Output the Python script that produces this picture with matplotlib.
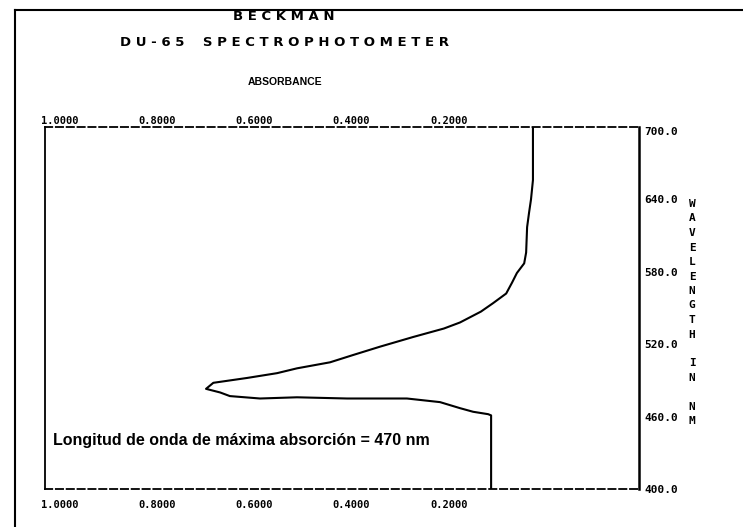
import matplotlib
matplotlib.use('Agg')
import matplotlib.pyplot as plt
from matplotlib.lines import Line2D

# trace, from 700 nm down to 400 nm
wavelength = [700, 681, 656, 640, 629, 617, 596, 587, 579, 571, 562, 554,
              547, 538, 533, 526, 518, 511, 505, 500, 496, 492, 488, 483,
              480, 477, 475, 476, 475, 475, 472, 467, 464, 462, 461, 400]
absorbance = [0.027, 0.027, 0.027, 0.031, 0.035, 0.039, 0.041, 0.045,
              0.060, 0.070, 0.082, 0.109, 0.134, 0.177, 0.210, 0.273,
              0.341, 0.397, 0.444, 0.512, 0.553, 0.615, 0.684, 0.699,
              0.670, 0.650, 0.588, 0.512, 0.409, 0.286, 0.218, 0.177,
              0.150, 0.119, 0.113, 0.113]

abs_ticks = [1.0, 0.8, 0.6, 0.4, 0.2]
abs_labels = ['1.0000', '0.8000', '0.6000', '0.4000', '0.2000']
wl_ticks = [400, 460, 520, 580, 640, 700]
wl_labels = ['400.0', '460.0', '520.0', '580.0', '640.0', '700.0']

mono = 'DejaVu Sans Mono'
W, H = 743, 527

fig = plt.figure(figsize=(7.43, 5.27), dpi=100)
ax = fig.add_axes([45 / W, 1 - 489 / H, 594 / W, 362 / H])

ax.plot(absorbance, wavelength, color='black', lw=1.5)
ax.set_xlim(1.030, -0.191)
ax.set_ylim(400, 700)

dash = (0, (4, 2))
for s in ['top', 'bottom']:
    ax.spines[s].set_linestyle(dash)
    ax.spines[s].set_linewidth(1.3)
ax.spines['left'].set_linewidth(1.3)
ax.spines['right'].set_linewidth(1.8)

ax.set_xticks(abs_ticks, labels=abs_labels)
ax.tick_params(axis='x', length=0, pad=8)
ax.yaxis.tick_right()
ax.set_yticks(wl_ticks, labels=wl_labels)
ax.tick_params(axis='y', length=0, pad=4)
for lab in ax.get_xticklabels() + ax.get_yticklabels():
    lab.set_fontfamily(mono)
    lab.set_fontweight('bold')
for lab in ax.get_xticklabels():
    lab.set_fontsize(7.5)
for lab in ax.get_yticklabels():
    lab.set_fontsize(8)
top_lab = ax.get_yticklabels()[-1]
top_lab.set_verticalalignment('top')

secax = ax.secondary_xaxis('top')
secax.set_xticks(abs_ticks, labels=abs_labels)
secax.tick_params(length=0, pad=1)
secax.spines['top'].set_visible(False)
for lab in secax.get_xticklabels():
    lab.set_fontfamily(mono)
    lab.set_fontweight('bold')
    lab.set_fontsize(7.5)

ax.text(8 / 594, 48 / 362, 'Longitud de onda de máxima absorción = 470 nm',
        transform=ax.transAxes, va='center', ha='left',
        fontfamily='Liberation Sans', fontweight='bold', fontsize=11.5)

# printer headers
fig.text(284 / W, 1 - 17 / H, 'B E C K M A N', ha='center', va='center',
         fontfamily='DejaVu Sans', fontweight='bold', fontsize=9.5)
fig.text(285 / W, 1 - 43 / H, 'D U - 6 5    S P E C T R O P H O T O M E T E R',
         ha='center', va='center', fontfamily='DejaVu Sans', fontweight='bold', fontsize=9.5)
fig.text(285 / W, 1 - 82 / H, 'ABSORBANCE', ha='center', va='center',
         fontfamily='Liberation Sans', fontweight='bold', fontsize=7.5)

# vertical axis title, one letter per row
for i, ch in enumerate('WAVELENGTH IN NM'):
    if ch != ' ':
        fig.text(692 / W, 1 - (204 + i * 14.5) / H, ch, ha='center', va='center',
                 fontfamily=mono, fontweight='bold', fontsize=8)

# page border of the printout
fig.add_artist(Line2D([15 / W, 15 / W], [0.0, 1 - 10 / H], color='black', lw=1.5))
fig.add_artist(Line2D([15 / W, 1.0], [1 - 10 / H, 1 - 10 / H], color='black', lw=1.5))

plt.savefig('out.png', dpi=100)
